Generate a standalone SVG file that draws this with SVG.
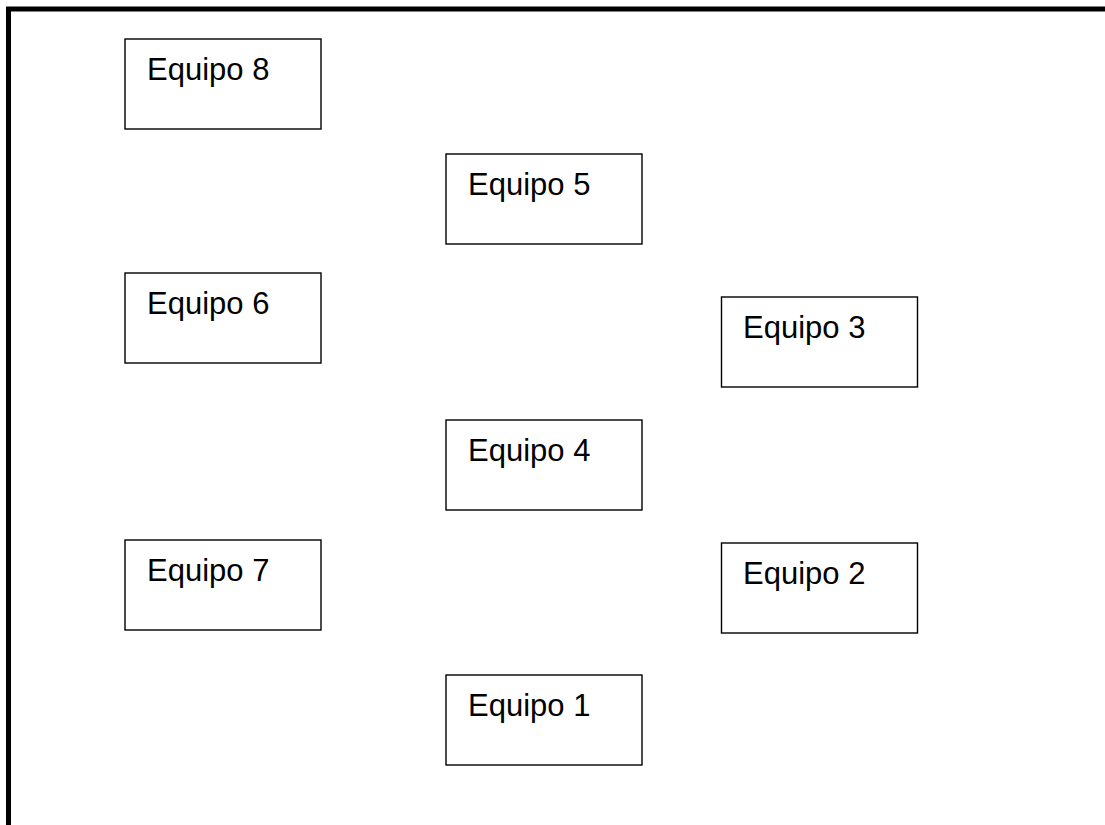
<svg xmlns="http://www.w3.org/2000/svg" width="1105" height="825" viewBox="0 0 1105 825">
<style>
.box{fill:#fff;stroke:#000;stroke-width:1.4}
.lbl{font-family:"Liberation Sans",Arial,sans-serif;font-size:31px;fill:#000}
</style>
<rect x="0" y="0" width="1105" height="825" fill="#fff"/>
<path d="M8.5,830 V9 H1110" fill="none" stroke="#000" stroke-width="5"/>
<g id="connectors"></g>
<g id="equipo8"><rect class="box" x="125" y="39" width="196" height="90"/><text class="lbl" x="147" y="80">Equipo 8</text></g>
<g id="equipo5"><rect class="box" x="446" y="154" width="196" height="90"/><text class="lbl" x="468" y="195">Equipo 5</text></g>
<g id="equipo6"><rect class="box" x="125" y="273" width="196" height="90"/><text class="lbl" x="147" y="314">Equipo 6</text></g>
<g id="equipo3"><rect class="box" x="721.5" y="297" width="196" height="90"/><text class="lbl" x="743" y="338">Equipo 3</text></g>
<g id="equipo4"><rect class="box" x="446" y="420" width="196" height="90"/><text class="lbl" x="468" y="461">Equipo 4</text></g>
<g id="equipo7"><rect class="box" x="125" y="540" width="196" height="90"/><text class="lbl" x="147" y="581">Equipo 7</text></g>
<g id="equipo2"><rect class="box" x="721.5" y="543" width="196" height="90"/><text class="lbl" x="743" y="584">Equipo 2</text></g>
<g id="equipo1"><rect class="box" x="446" y="675" width="196" height="90"/><text class="lbl" x="468" y="716">Equipo 1</text></g>
</svg>
